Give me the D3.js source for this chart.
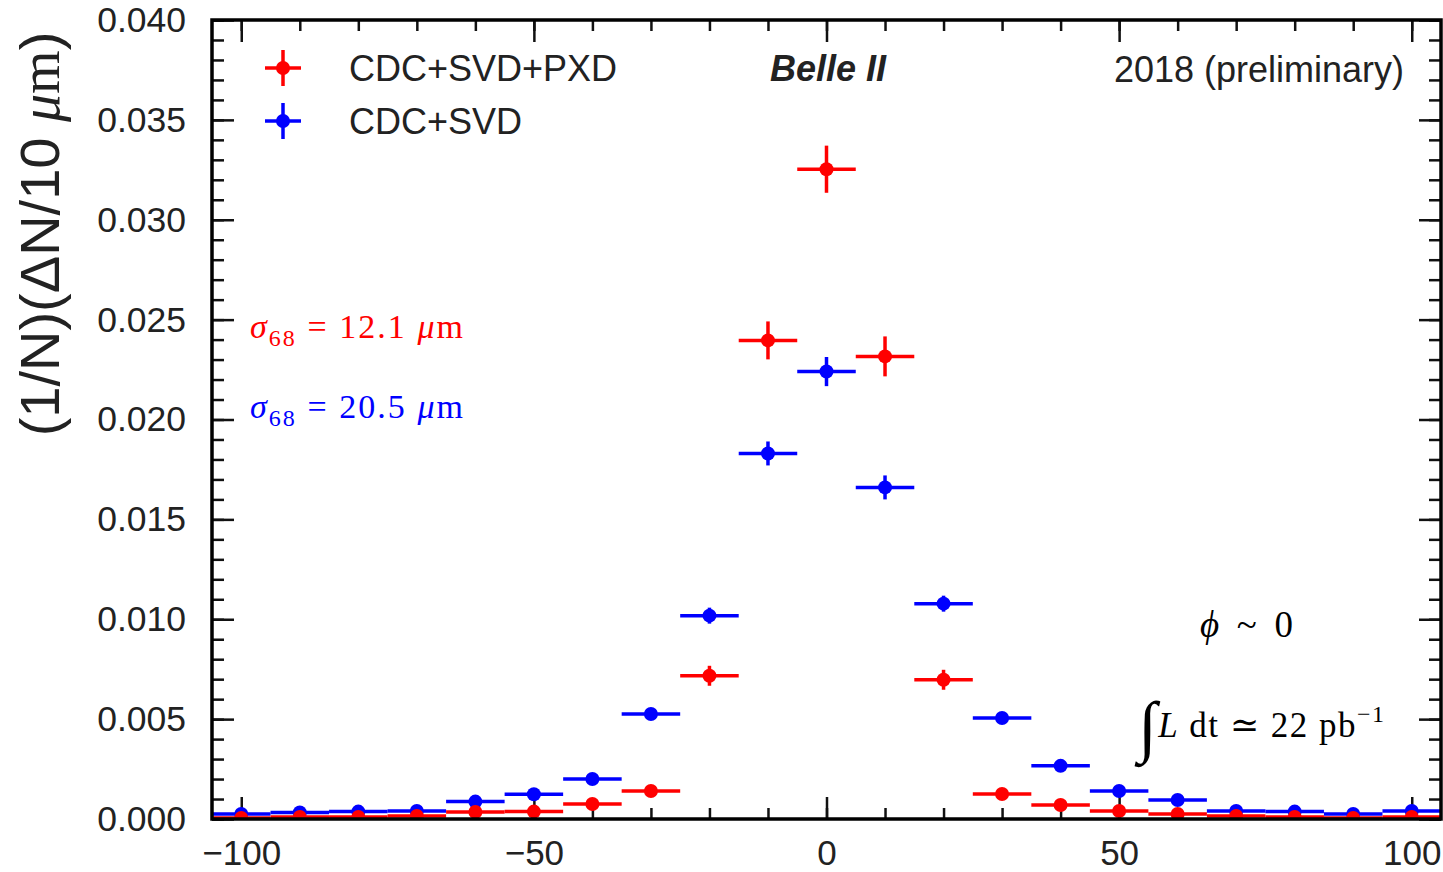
<!DOCTYPE html>
<html>
<head>
<meta charset="utf-8">
<script src="https://cdn.jsdelivr.net/npm/d3@7"></script>
<style>
  body { margin: 0; background: #fff; }
  text { fill: #222; }
</style>
</head>
<body>
<svg id="chart" width="1443" height="872"></svg>
<script>
// bin centres (um)
let bins = [-100, -90, -80, -70, -60, -50, -40, -30, -20, -10, 0, 10, 20, 30, 40, 50, 60, 70, 80, 90, 100];
let binHalfWidth = 5;

// CDC+SVD+PXD
let pxdValues = [0.00005, 0.0001, 0.0001, 0.00015, 0.00035, 0.00037, 0.00075, 0.0014, 0.00717, 0.02396, 0.03253, 0.02316, 0.00697, 0.00125, 0.0007, 0.0004, 0.00025, 0.00015, 0.0001, 0.00005, 0.0001];
let pxdErrors = [0.00005, 0.00005, 0.00005, 0.00005, 0.0001, 0.0001, 0.00015, 0.0002, 0.0005, 0.00095, 0.00118, 0.001, 0.0005, 0.0002, 0.00015, 0.0001, 0.0001, 0.00005, 0.00005, 0.00005, 0.00005];

// CDC+SVD
let svdValues = [0.00025, 0.00033, 0.00037, 0.0004, 0.00087, 0.00124, 0.002, 0.00526, 0.01018, 0.0183, 0.0224, 0.0166, 0.01078, 0.00506, 0.00266, 0.0014, 0.00095, 0.0004, 0.00037, 0.00025, 0.0004];
let svdErrors = [0.00005, 0.00005, 0.00005, 0.00005, 0.0001, 0.00012, 0.00015, 0.00025, 0.0004, 0.0006, 0.00073, 0.0006, 0.0004, 0.00025, 0.00015, 0.0001, 0.0001, 0.00005, 0.00005, 0.00005, 0.00005];

let xMajorTicks = [-100, -50, 0, 50, 100];
let xMinorTicks = d3.range(-100, 101, 10);
let yMajorTicks = [0, 0.005, 0.01, 0.015, 0.02, 0.025, 0.03, 0.035, 0.04];
let yMinorTicks = d3.range(0, 41, 1).map(d => d / 1000);

let redColor = "#ff0000";
let blueColor = "#0000ff";

let svg = d3.select('#chart');
let plot = {l: 212, r: 1441, t: 20, b: 819};

let xScale = d3.scaleLinear().domain([-105, 105]).range([plot.l, plot.r]);
let yScale = d3.scaleLinear().domain([0, 0.04]).range([plot.b, plot.t]);

let sansFont = "'Liberation Sans', Arial, sans-serif";
let serifFont = "'Liberation Serif', 'DejaVu Serif', serif";

// clip for data
svg.append('clipPath').attr('id', 'plot-clip')
    .append('rect')
    .attr('x', plot.l).attr('y', plot.t)
    .attr('width', plot.r - plot.l).attr('height', plot.b - plot.t);

// ticks (inward, on all four sides)
function drawTicks(axisFn, scale, values, size, transform) {
    let g = svg.append('g')
        .attr('transform', transform)
        .call(axisFn(scale).tickValues(values).tickSize(size).tickFormat(''));
    g.select('.domain').remove();
    g.selectAll('line').attr('stroke', '#111').attr('stroke-width', 2.5);
    return g;
}
drawTicks(d3.axisBottom, xScale, xMinorTicks, -11, `translate(0,${plot.b})`);
drawTicks(d3.axisBottom, xScale, xMajorTicks, -22, `translate(0,${plot.b})`);
drawTicks(d3.axisTop, xScale, xMinorTicks, -11, `translate(0,${plot.t})`);
drawTicks(d3.axisTop, xScale, xMajorTicks, -22, `translate(0,${plot.t})`);
drawTicks(d3.axisLeft, yScale, yMinorTicks, -12, `translate(${plot.l},0)`);
drawTicks(d3.axisLeft, yScale, yMajorTicks, -22, `translate(${plot.l},0)`);
drawTicks(d3.axisRight, yScale, yMinorTicks, -12, `translate(${plot.r},0)`);
drawTicks(d3.axisRight, yScale, yMajorTicks, -22, `translate(${plot.r},0)`);

// tick labels
let minus = s => s.replace('-', '\u2212');
let xLabels = svg.append('g')
    .attr('transform', `translate(0,${plot.b})`)
    .call(d3.axisBottom(xScale).tickValues(xMajorTicks).tickSize(0).tickPadding(21)
        .tickFormat(d => minus(d3.format('d')(d))));
xLabels.select('.domain').remove();
xLabels.selectAll('text').style('font-family', sansFont).style('font-size', '35px').attr('fill', '#222');

let yLabels = svg.append('g')
    .attr('transform', `translate(${plot.l},0)`)
    .call(d3.axisLeft(yScale).tickValues(yMajorTicks).tickSize(0).tickPadding(26)
        .tickFormat(d3.format('.3f')));
yLabels.select('.domain').remove();
yLabels.selectAll('text').style('font-family', sansFont).style('font-size', '35.5px').attr('fill', '#222');

// data series
function drawSeries(values, errors, color) {
    let g = svg.append('g').attr('clip-path', 'url(#plot-clip)');
    let pts = g.selectAll('g').data(bins.map((b, i) => ({x: b, y: values[i], e: errors[i]})))
        .enter().append('g');
    pts.append('line')
        .attr('x1', d => xScale(d.x - binHalfWidth)).attr('x2', d => xScale(d.x + binHalfWidth))
        .attr('y1', d => yScale(d.y)).attr('y2', d => yScale(d.y))
        .attr('stroke', color).attr('stroke-width', 3.5);
    pts.append('line')
        .attr('x1', d => xScale(d.x)).attr('x2', d => xScale(d.x))
        .attr('y1', d => yScale(d.y - d.e)).attr('y2', d => yScale(d.y + d.e))
        .attr('stroke', color).attr('stroke-width', 3.5);
    pts.append('circle')
        .attr('cx', d => xScale(d.x)).attr('cy', d => yScale(d.y))
        .attr('r', 7).attr('fill', color);
}
drawSeries(svdValues, svdErrors, blueColor);
drawSeries(pxdValues, pxdErrors, redColor);

// frame
svg.append('rect')
    .attr('x', plot.l).attr('y', plot.t)
    .attr('width', plot.r - plot.l).attr('height', plot.b - plot.t)
    .attr('fill', 'none').attr('stroke', '#000').attr('stroke-width', 3.5);

// legend
let legendItems = [
    {label: 'CDC+SVD+PXD', color: redColor},
    {label: 'CDC+SVD', color: blueColor}
];
let legend = svg.append('g').attr('transform', 'translate(283, 68)');
legendItems.forEach((item, i) => {
    let g = legend.append('g').attr('transform', `translate(0, ${i * 53})`);
    g.append('line').attr('x1', -18).attr('x2', 18).attr('stroke', item.color).attr('stroke-width', 3.5);
    g.append('line').attr('y1', -18).attr('y2', 18).attr('stroke', item.color).attr('stroke-width', 3.5);
    g.append('circle').attr('r', 7).attr('fill', item.color);
    g.append('text').text(item.label)
        .attr('x', 66).attr('y', 13)
        .style('font-family', sansFont).style('font-size', '36px');
});

// header texts
svg.append('text').text('Belle II')
    .attr('x', 828).attr('y', 81).attr('text-anchor', 'middle')
    .style('font-family', sansFont).style('font-size', '36px')
    .style('font-weight', 'bold').style('font-style', 'italic');
svg.append('text').text('2018 (preliminary)')
    .attr('x', 1404).attr('y', 82).attr('text-anchor', 'end')
    .style('font-family', sansFont).style('font-size', '36px');

// y title
let yTitle = svg.append('text')
    .attr('transform', 'translate(59, 234) rotate(-90)')
    .attr('text-anchor', 'middle')
    .style('font-family', sansFont).style('font-size', '56px');
yTitle.append('tspan').text('(1/N)(\u0394N/10 ');
yTitle.append('tspan').text('\u03bc').style('font-family', serifFont).style('font-style', 'italic');
yTitle.append('tspan').text('m').style('font-family', serifFont);
yTitle.append('tspan').text(')');

// sigma annotations
function sigmaText(y, value, color) {
    let t = svg.append('text').attr('x', 250).attr('y', y)
        .attr('textLength', 213).attr('lengthAdjust', 'spacing')
        .style('font-family', serifFont).style('font-size', '34px').style('fill', color);
    t.append('tspan').text('\u03c3').style('font-style', 'italic');
    t.append('tspan').text('68').attr('dy', 8).style('font-size', '24px');
    t.append('tspan').text(' = ' + value + ' ').attr('dy', -8);
    t.append('tspan').text('\u03bc').style('font-style', 'italic');
    t.append('tspan').text('m');
}
sigmaText(338, '12.1', redColor);
sigmaText(418, '20.5', blueColor);

// phi and luminosity
let phi = svg.append('text').attr('x', 1200).attr('y', 637)
    .attr('textLength', 93).attr('lengthAdjust', 'spacing')
    .style('font-family', serifFont).style('font-size', '37px').style('fill', '#000');
phi.append('tspan').text('\u03d5').style('font-style', 'italic');
phi.append('tspan').text(' ~ 0');

let lumi = svg.append('text').attr('x', 1138).attr('y', 737)
    .attr('textLength', 246).attr('lengthAdjust', 'spacing')
    .style('font-family', serifFont).style('font-size', '35px').style('fill', '#000');
lumi.append('tspan').text('\u222b').style('font-size', '68px').style('font-style', 'italic').attr('dy', 12);
lumi.append('tspan').text('L').style('font-style', 'italic').attr('dy', -12);
lumi.append('tspan').text(' dt \u2243 22 pb');
lumi.append('tspan').text('\u22121').style('font-size', '24px').attr('dy', -15);
</script>
</body>
</html>
